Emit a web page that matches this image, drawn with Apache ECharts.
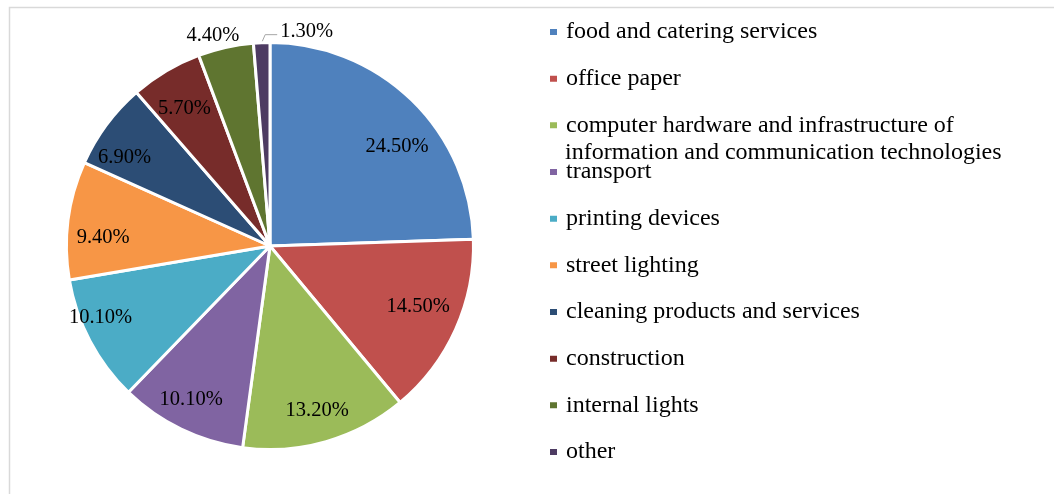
<!DOCTYPE html>
<html>
<head>
<meta charset="utf-8">
<title>Pie chart</title>
<script src="https://cdn.jsdelivr.net/npm/echarts@6/dist/echarts.min.js"></script>
<style>
  html, body { margin: 0; padding: 0; background: #ffffff; }
  #chart { width: 1054px; height: 494px; }
</style>
</head>
<body>
<div id="chart"></div>
<script>
// Shares by category (percent)
const categories = [
  'food and catering services',
  'office paper',
  'computer hardware and infrastructure of information and communication technologies',
  'transport',
  'printing devices',
  'street lighting',
  'cleaning products and services',
  'construction',
  'internal lights',
  'other'
];
const values = [24.5, 14.5, 13.2, 10.1, 10.1, 9.4, 6.9, 5.7, 4.4, 1.3];
const colors = [
  '#4F81BD', '#C0504D', '#9BBB59', '#8064A2', '#4BACC6',
  '#F79646', '#2C4D75', '#772C2A', '#5F7530', '#4D3B62'
];
// Legend text split over two lines for the long entry
const legendLines = {
  'computer hardware and infrastructure of information and communication technologies':
    ['computer hardware and infrastructure of', 'information and communication technologies']
};
// Slices whose value labels sit outside the pie
const outsideLabels = [8, 9];

const FONT = '"Liberation Serif", "Times New Roman", serif';
const CENTER = [270, 246];
const RADIUS = 203.5;
const LEGEND_LEFT = 548;
const LEGEND_TOP = 20;
const LEGEND_ROW = 24;
const LEGEND_GAP = 22.67;
const LEGEND_FONT = 24;
const LABEL_FONT = 20.5;

// small best-fit style shifts of the in-slice labels, by slice index
const labelNudges = {
  0: [8, 24], 1: [-8, -10], 3: [-4, 0], 4: [-18, -8],
  5: [3, 13], 6: [-8, 14], 7: [2, 10]
};

const fmt = p => p.value.toFixed(2) + '%';

const mainData = categories.map((name, i) => {
  const item = { name: name, value: values[i], itemStyle: { color: colors[i] } };
  if (outsideLabels.indexOf(i) >= 0) {
    const isLast = i === categories.length - 1;
    item.label = { show: true, position: 'outside' };
    item.labelLine = isLast
      ? { show: true, length: 8, length2: 12 }
      : { show: false, length: 15, length2: 0 };
  }
  return item;
});

const labelRingData = categories.map((name, i) => ({
  name: name,
  value: values[i],
  label: { show: outsideLabels.indexOf(i) < 0 }
}));

const graphics = [{
  // chart area frame
  type: 'rect',
  silent: true,
  shape: { x: 9.5, y: 7.5, width: 1200, height: 700 },
  style: { fill: 'none', stroke: '#D9D9D9', lineWidth: 1.5 }
}];
// continuation lines of wrapped legend entries, placed under their first line
categories.forEach((name, i) => {
  const lines = legendLines[name];
  if (!lines) return;
  const rowCenter = LEGEND_TOP + LEGEND_ROW / 2 + i * (LEGEND_ROW + LEGEND_GAP);
  lines.slice(1).forEach((line, k) => {
    graphics.push({
      type: 'text',
      silent: true,
      x: LEGEND_LEFT + 17,
      y: rowCenter + 27 * (k + 1),
      style: {
        text: line,
        font: LEGEND_FONT + 'px ' + FONT,
        fill: '#000',
        verticalAlign: 'middle',
        align: 'left'
      }
    });
  });
});

const chart = echarts.init(document.getElementById('chart'), null, { renderer: 'canvas' });
chart.setOption({
  backgroundColor: '#ffffff',
  animation: false,
  graphic: graphics,
  legend: {
    orient: 'vertical',
    left: LEGEND_LEFT,
    top: LEGEND_TOP,
    padding: 0,
    itemWidth: 9,
    itemHeight: 8,
    itemGap: LEGEND_GAP,
    icon: 'rect',
    selectedMode: false,
    data: categories,
    formatter: name => (legendLines[name] ? legendLines[name][0] : name),
    textStyle: {
      fontFamily: FONT,
      fontSize: LEGEND_FONT,
      lineHeight: LEGEND_ROW,
      color: '#000',
      padding: [0, 0, 0, 3]
    }
  },
  series: [
    {
      type: 'pie',
      name: 'shares',
      center: CENTER,
      radius: RADIUS,
      startAngle: 90,
      clockwise: true,
      avoidLabelOverlap: false,
      silent: true,
      itemStyle: { borderColor: '#ffffff', borderWidth: 3 },
      label: {
        show: false,
        formatter: fmt,
        fontFamily: FONT,
        fontSize: LABEL_FONT,
        color: '#000'
      },
      labelLine: { lineStyle: { color: '#A6A6A6', width: 1 } },
      labelLayout: function (p) {
        if (p.dataIndex === 8) {
          return { dx: 22, dy: 3 };
        }
        if (p.dataIndex === 9 && p.labelLinePoints) {
          const edge = p.labelLinePoints[0];
          const knee = [edge[0] + 3.5, edge[1] - 8];
          const end = [knee[0] + 12, knee[1]];
          return {
            x: end[0] + 3,
            y: knee[1] - 3,
            align: 'left',
            verticalAlign: 'middle',
            labelLinePoints: [edge, knee, end]
          };
        }
      },
      data: mainData
    },
    {
      // transparent ring carrying the in-slice value labels
      type: 'pie',
      name: 'labels',
      center: CENTER,
      radius: [133, RADIUS],
      startAngle: 90,
      clockwise: true,
      silent: true,
      legendHoverLink: false,
      itemStyle: { color: 'rgba(0,0,0,0)', borderWidth: 0 },
      label: {
        position: 'inside',
        formatter: fmt,
        fontFamily: FONT,
        fontSize: LABEL_FONT,
        color: '#000'
      },
      labelLine: { show: false },
      labelLayout: function (p) {
        const n = labelNudges[p.dataIndex];
        if (n) return { dx: n[0], dy: n[1] };
      },
      emphasis: { disabled: true },
      data: labelRingData
    }
  ]
});
</script>
</body>
</html>
